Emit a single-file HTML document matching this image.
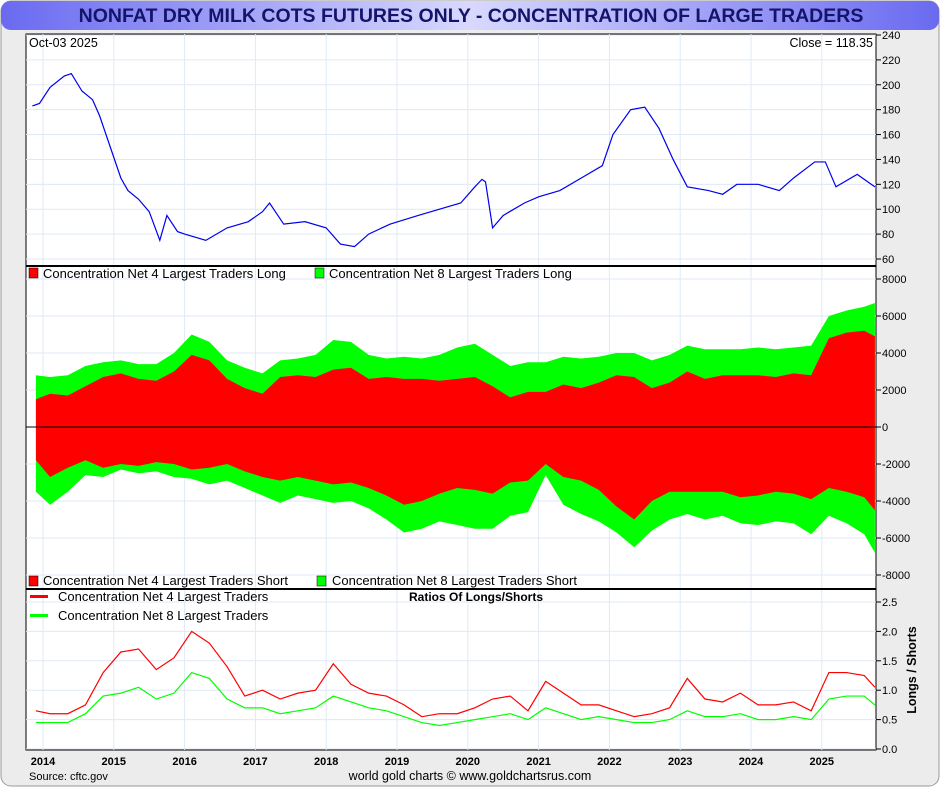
<!DOCTYPE html>
<html><head><meta charset="utf-8"><style>
body{margin:0;background:#fff;font-family:"Liberation Sans",sans-serif}
svg text{font-family:"Liberation Sans",sans-serif}
</style></head><body>
<svg id="c" width="940" height="787" xmlns="http://www.w3.org/2000/svg">
<defs><linearGradient id="tg" x1="0" x2="1"><stop offset="0" stop-color="#6a6af0"/><stop offset="0.5" stop-color="#d8d8ff"/><stop offset="1" stop-color="#6a6af0"/></linearGradient></defs>
<rect x="1" y="1" width="938" height="785" rx="10" fill="#ececec" stroke="#999"/>
<rect x="1" y="1" width="938" height="29" rx="10" fill="url(#tg)"/>
<text x="471" y="22" text-anchor="middle" font-size="19.5" font-weight="bold" fill="#14146a">NONFAT DRY MILK COTS FUTURES ONLY - CONCENTRATION OF LARGE TRADERS</text>
<rect x="26" y="34" width="850" height="716" fill="#fff" stroke="#000"/>
<g id="grid"></g><g id="marks"></g><g id="axes"></g>
<line x1="26" y1="266" x2="876" y2="266" stroke="#000" stroke-width="2"/>
<line x1="26" y1="589" x2="876" y2="589" stroke="#000" stroke-width="2"/>
<text x="29" y="47" font-size="12.5">Oct-03  2025</text>
<text x="873" y="47" font-size="12.5" text-anchor="end">Close = 118.35</text>
<rect x="29" y="268" width="9" height="10" fill="#f00" stroke="#000" stroke-width="0.5"/><text x="43" y="278" font-size="13">Concentration Net 4 Largest Traders Long</text>
<rect x="315" y="268" width="9" height="10" fill="#0f0" stroke="#000" stroke-width="0.5"/><text x="329" y="278" font-size="13">Concentration Net 8 Largest Traders Long</text>
<rect x="29" y="576" width="9" height="10" fill="#f00" stroke="#000" stroke-width="0.5"/><text x="43" y="585" font-size="13">Concentration Net 4 Largest Traders Short</text>
<rect x="317" y="576" width="9" height="10" fill="#0f0" stroke="#000" stroke-width="0.5"/><text x="332" y="585" font-size="13">Concentration Net 8 Largest Traders Short</text>
<rect x="30" y="595" width="18" height="3" fill="#f00"/><text x="58" y="601" font-size="13">Concentration Net 4 Largest Traders</text>
<rect x="30" y="614" width="18" height="3" fill="#0f0"/><text x="58" y="620" font-size="13">Concentration Net 8 Largest Traders</text>
<text x="476" y="601" font-size="12" font-weight="bold" text-anchor="middle">Ratios Of Longs/Shorts</text>
<text x="0" y="0" font-size="12.5" font-weight="bold" transform="translate(916,670) rotate(-90)" text-anchor="middle">Longs / Shorts</text>
<text x="29" y="780" font-size="11">Source: cftc.gov</text>
<text x="470" y="780" font-size="12.5" text-anchor="middle">world gold charts © www.goldchartsrus.com</text>
</svg>
<script>
const priceDates=[2013.85,2013.95,2014.1,2014.3,2014.4,2014.55,2014.7,2014.8,2014.95,2015.1,2015.2,2015.35,2015.5,2015.65,2015.75,2015.9,2016.0,2016.3,2016.6,2016.9,2017.1,2017.2,2017.4,2017.7,2018.0,2018.2,2018.4,2018.6,2018.9,2019.3,2019.6,2019.9,2020.1,2020.2,2020.25,2020.35,2020.5,2020.8,2021.0,2021.3,2021.6,2021.9,2022.05,2022.3,2022.5,2022.7,2022.9,2023.1,2023.4,2023.6,2023.8,2024.1,2024.4,2024.6,2024.9,2025.05,2025.2,2025.5,2025.75];
const priceValues=[183,185,198,207,209,195,188,175,150,125,115,108,98,75,95,82,80,75,85,90,98,105,88,90,85,72,70,80,88,95,100,105,118,124,122,85,95,105,110,115,125,135,160,180,182,165,140,118,115,112,120,120,115,125,138,138,118,128,118];
const dates=[2013.9,2014.1,2014.35,2014.6,2014.85,2015.1,2015.35,2015.6,2015.85,2016.1,2016.35,2016.6,2016.85,2017.1,2017.35,2017.6,2017.85,2018.1,2018.35,2018.6,2018.85,2019.1,2019.35,2019.6,2019.85,2020.1,2020.35,2020.6,2020.85,2021.1,2021.35,2021.6,2021.85,2022.1,2022.35,2022.6,2022.85,2023.1,2023.35,2023.6,2023.85,2024.1,2024.35,2024.6,2024.85,2025.1,2025.35,2025.6,2025.75];
const long4=[1500,1800,1700,2200,2700,2900,2600,2500,3000,3900,3600,2600,2100,1800,2700,2800,2700,3100,3200,2600,2700,2600,2600,2500,2600,2700,2200,1600,1900,1900,2300,2100,2400,2800,2700,2100,2400,3000,2600,2800,2800,2800,2700,2900,2800,4800,5100,5200,4900];
const long8=[2800,2700,2800,3300,3500,3600,3400,3400,4000,5000,4600,3600,3200,2900,3600,3700,3900,4700,4600,3900,3700,3800,3700,3900,4300,4500,3900,3300,3500,3500,3800,3700,3800,4000,4000,3600,3900,4400,4200,4200,4200,4300,4200,4300,4400,6000,6300,6500,6700];
const short4=[-1800,-2700,-2200,-1800,-2200,-2000,-2100,-1900,-2000,-2300,-2200,-2000,-2400,-2700,-2900,-2700,-2900,-3100,-3000,-3300,-3700,-4200,-4000,-3600,-3300,-3400,-3600,-3000,-2900,-2000,-2700,-2900,-3400,-4300,-5000,-4000,-3500,-3500,-3500,-3500,-3800,-3700,-3500,-3600,-3900,-3300,-3500,-3800,-4500];
const short8=[-3500,-4200,-3500,-2600,-2700,-2300,-2500,-2400,-2700,-2800,-3100,-2900,-3300,-3700,-4100,-3700,-3900,-4100,-4000,-4400,-5000,-5700,-5500,-5100,-5300,-5500,-5500,-4800,-4600,-2600,-4200,-4700,-5100,-5700,-6500,-5600,-5000,-4700,-5000,-4800,-5200,-5300,-5100,-5200,-5800,-4800,-5200,-5800,-6800];
const ratio4=[0.65,0.6,0.6,0.75,1.3,1.65,1.7,1.35,1.55,2.0,1.8,1.4,0.9,1.0,0.85,0.95,1.0,1.45,1.1,0.95,0.9,0.75,0.55,0.6,0.6,0.7,0.85,0.9,0.65,1.15,0.95,0.75,0.75,0.65,0.55,0.6,0.7,1.2,0.85,0.8,0.95,0.75,0.75,0.8,0.65,1.3,1.3,1.25,1.05];
const ratio8=[0.45,0.45,0.45,0.6,0.9,0.95,1.05,0.85,0.95,1.3,1.2,0.85,0.7,0.7,0.6,0.65,0.7,0.9,0.8,0.7,0.65,0.55,0.45,0.4,0.45,0.5,0.55,0.6,0.5,0.7,0.6,0.5,0.55,0.5,0.45,0.45,0.5,0.65,0.55,0.55,0.6,0.5,0.5,0.55,0.5,0.85,0.9,0.9,0.75];
const years=[2014,2015,2016,2017,2018,2019,2020,2021,2022,2023,2024,2025];
const priceTicks=[60,80,100,120,140,160,180,200,220,240];
const cotTicks=[-8000,-6000,-4000,-2000,0,2000,4000,6000,8000];
const ratioTicks=[0,0.5,1,1.5,2,2.5];
const NS='http://www.w3.org/2000/svg';
const X=t=>43+(t-2014)*70.8;
const YP=v=>35+(240-v)*224/180;
const YC=v=>427-v*0.0185;
const YR=v=>749-v*58.8;
const g=document.getElementById('grid'),m=document.getElementById('marks'),a=document.getElementById('axes');
function mk(p,tag,at){const e=document.createElementNS(NS,tag);for(const k in at)e.setAttribute(k,at[k]);p.appendChild(e);return e;}
years.forEach(y=>{
 const l=mk(g,'line',{x1:X(y),x2:X(y),y1:34,y2:750,stroke:'#dfe9f5'});
 
 
 const t=mk(a,'text',{x:X(y),y:765,'font-size':11,'font-weight':'bold','text-anchor':'middle'});t.textContent=y;
 
 
});
function yAxis(ticks,f,fmt,lo,hi){ticks.forEach(v=>{const y=f(v);
 if(y>lo&&y<hi){const l=mk(g,'line',{x1:26,x2:876,y1:y,y2:y,stroke:'#dfe9f5'});}
 mk(a,'line',{x1:876,x2:881,y1:y,y2:y,stroke:'#000'});
 const t=mk(a,'text',{x:882,y:y+4,'font-size':11});t.textContent=fmt(v);
 
 });}
yAxis(priceTicks,YP,v=>v,34,265);
yAxis(cotTicks,YC,v=>v,266,588);
yAxis(ratioTicks,YR,v=>v.toFixed(1),589,750);
function line(xs,ys,fy,col,name){const p=mk(m,'polyline',{points:xs.map((t,i)=>X(t)+','+fy(ys[i])).join(' '),fill:'none',stroke:col,'stroke-width':1.2});
 
 }
function area(vals,col,name){let d='M'+X(dates[0])+','+YC(0);dates.forEach((t,i)=>d+=' L'+X(t)+','+YC(vals[i]));d+=' L'+X(dates[dates.length-1])+','+YC(0)+'Z';
 const p=mk(m,'path',{d:d,fill:col});
 
 }
line(priceDates,priceValues,YP,'#0000ee','price-line');
area(long8,'#00ff00','net8-long-area');
area(short8,'#00ff00','net8-short-area');
area(long4,'#ff0000','net4-long-area');
area(short4,'#ff0000','net4-short-area');
mk(m,'line',{x1:26,x2:876,y1:YC(0),y2:YC(0),stroke:'#000'});
line(dates,ratio4,YR,'#ff0000','ratio-net4-line');
line(dates,ratio8,YR,'#00ff00','ratio-net8-line');
</script>
</body></html>
